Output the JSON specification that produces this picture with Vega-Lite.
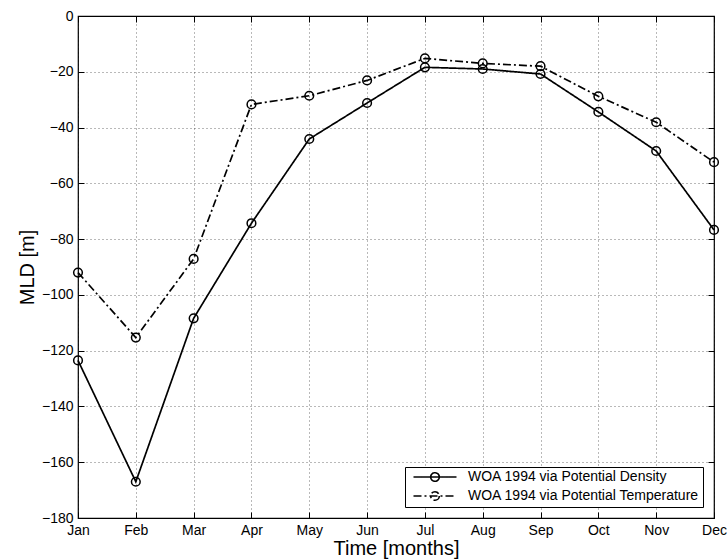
{
  "$schema": "https://vega.github.io/schema/vega-lite/v6.json",
  "width": 636,
  "height": 502,
  "autosize": {"type": "none"},
  "padding": {"left": 78, "top": 16, "right": 14, "bottom": 42},
  "background": "white",
  "config": {
    "font": "Liberation Sans",
    "view": {"stroke": "black", "strokeWidth": 1.2},
    "axis": {
      "labelFont": "Liberation Sans",
      "titleFont": "Liberation Sans",
      "labelFontSize": 14,
      "labelColor": "black",
      "titleColor": "black",
      "titleFontWeight": "normal",
      "titleFontSize": 20,
      "tickColor": "black",
      "domain": false,
      "tickSize": -6,
      "gridColor": "#000000",
      "gridOpacity": 0.55,
      "gridDash": [1, 3],
      "gridWidth": 1
    },
    "legend": {
      "labelFont": "Liberation Sans",
      "labelFontSize": 14,
      "labelColor": "black"
    }
  },
  "data": {
    "values": [
      {"month": 1, "series": "WOA 1994 via Potential Density", "mld": -123.5},
      {"month": 2, "series": "WOA 1994 via Potential Density", "mld": -167.0},
      {"month": 3, "series": "WOA 1994 via Potential Density", "mld": -108.4},
      {"month": 4, "series": "WOA 1994 via Potential Density", "mld": -74.3},
      {"month": 5, "series": "WOA 1994 via Potential Density", "mld": -44.1},
      {"month": 6, "series": "WOA 1994 via Potential Density", "mld": -31.2},
      {"month": 7, "series": "WOA 1994 via Potential Density", "mld": -18.4},
      {"month": 8, "series": "WOA 1994 via Potential Density", "mld": -19.0},
      {"month": 9, "series": "WOA 1994 via Potential Density", "mld": -20.8},
      {"month": 10, "series": "WOA 1994 via Potential Density", "mld": -34.4},
      {"month": 11, "series": "WOA 1994 via Potential Density", "mld": -48.4},
      {"month": 12, "series": "WOA 1994 via Potential Density", "mld": -76.7},
      {"month": 1, "series": "WOA 1994 via Potential Temperature", "mld": -92.0},
      {"month": 2, "series": "WOA 1994 via Potential Temperature", "mld": -115.3},
      {"month": 3, "series": "WOA 1994 via Potential Temperature", "mld": -87.1},
      {"month": 4, "series": "WOA 1994 via Potential Temperature", "mld": -31.7},
      {"month": 5, "series": "WOA 1994 via Potential Temperature", "mld": -28.6},
      {"month": 6, "series": "WOA 1994 via Potential Temperature", "mld": -23.1},
      {"month": 7, "series": "WOA 1994 via Potential Temperature", "mld": -15.2},
      {"month": 8, "series": "WOA 1994 via Potential Temperature", "mld": -17.0},
      {"month": 9, "series": "WOA 1994 via Potential Temperature", "mld": -18.0},
      {"month": 10, "series": "WOA 1994 via Potential Temperature", "mld": -28.8},
      {"month": 11, "series": "WOA 1994 via Potential Temperature", "mld": -38.1},
      {"month": 12, "series": "WOA 1994 via Potential Temperature", "mld": -52.4}
    ]
  },
  "layer": [
    {
      "mark": {"type": "line", "color": "black", "strokeWidth": 1.7},
      "encoding": {
        "x": {
          "field": "month", "type": "quantitative",
          "scale": {"domain": [1, 12], "nice": false, "zero": false},
          "axis": {
            "orient": "bottom",
            "values": [1,2,3,4,5,6,7,8,9,10,11,12],
            "labelExpr": "['Jan','Feb','Mar','Apr','May','Jun','Jul','Aug','Sep','Oct','Nov','Dec'][datum.value - 1]",
            "labelPadding": 11,
            "labelFlush": false,
            "labelOverlap": false,
            "title": "Time [months]",
            "titlePadding": 1
          }
        },
        "y": {
          "field": "mld", "type": "quantitative",
          "scale": {"domain": [-180, 0], "nice": false, "zero": false},
          "axis": {
            "orient": "left",
            "values": [-180,-160,-140,-120,-100,-80,-60,-40,-20,0],
            "labelPadding": 11,
            "labelFlush": false,
            "labelOverlap": false,
            "title": "MLD [m]",
            "titlePadding": 4
          }
        },
        "strokeDash": {
          "field": "series", "type": "nominal",
          "scale": {
            "domain": ["WOA 1994 via Potential Density", "WOA 1994 via Potential Temperature"],
            "range": [[1, 0], [8, 3, 2, 3]]
          },
          "legend": {
            "title": null,
            "orient": "bottom-right",
            "offset": 11,
            "strokeColor": "black",
            "fillColor": "white",
            "padding": 3,
            "rowPadding": 3,
            "labelLimit": 320,
            "labelOffset": 26,
            "symbolOffset": 20,
            "symbolType": "M-5,0H5M1,0A1,1,0,1,1,-1,0A1,1,0,1,1,1,0",
            "symbolSize": 74,
            "symbolStrokeColor": "black",
            "symbolFillColor": "transparent",
            "symbolStrokeWidth": 1.6
          }
        }
      }
    },
    {
      "mark": {"type": "point", "filled": false, "color": "black", "size": 75, "strokeWidth": 1.5, "opacity": 1},
      "encoding": {
        "x": {
          "field": "month", "type": "quantitative",
          "axis": {
            "orient": "top",
            "values": [1,2,3,4,5,6,7,8,9,10,11,12],
            "labels": false, "grid": false, "title": null
          }
        },
        "y": {
          "field": "mld", "type": "quantitative",
          "axis": {
            "orient": "right",
            "values": [-180,-160,-140,-120,-100,-80,-60,-40,-20,0],
            "labels": false, "grid": false, "title": null
          }
        },
        "detail": {"field": "series", "type": "nominal"}
      }
    }
  ]
}
